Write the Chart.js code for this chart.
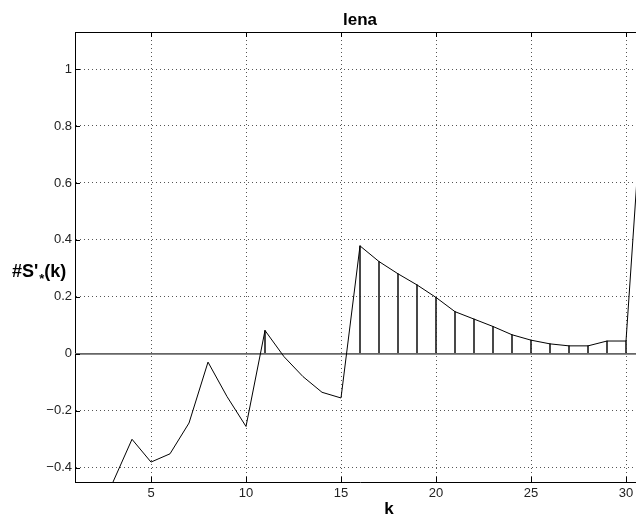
<!DOCTYPE html>
<html>
<head>
<meta charset="utf-8">
<script src="https://cdn.jsdelivr.net/npm/chart.js@4/dist/chart.umd.min.js"></script>
<style>
  html, body { margin: 0; padding: 0; background: #fff; overflow: hidden; }
  canvas { display: block; }
</style>
</head>
<body>
<canvas id="lena-chart" width="646" height="515"></canvas>
<script>
// k 取值与对应的 #S'*(k)
const kValues = [3, 4, 5, 6, 7, 8, 9, 10, 11, 12, 13, 14, 15, 16, 17, 18, 19, 20, 21, 22, 23, 24, 25, 26, 27, 28, 29, 30, 31];
const sValues = [-0.45, -0.30, -0.38, -0.351, -0.243, -0.029, -0.15, -0.255, 0.082, -0.01, -0.08, -0.135, -0.155,
    0.379, 0.324, 0.281, 0.242, 0.198, 0.148, 0.122, 0.096, 0.067, 0.048, 0.035, 0.028, 0.028, 0.045, 0.045, 1.03];

const xTicks = [5, 10, 15, 20, 25, 30];
const yTicks = [-0.4, -0.2, 0, 0.2, 0.4, 0.6, 0.8, 1];
const xRange = [1, 31];
const yRange = [-0.45, 1.13];

const chartTitle = 'lena';
const xLabel = 'k';

const linePoints = kValues.map((k, i) => ({ x: k, y: sValues[i] }));
const stemPoints = linePoints.filter((p) => p.y > 0);

function formatTick(v) {
    return String(v).replace('-', '\u2212');
}

// 标题、坐标轴标签和向内的刻度线
const decorPlugin = {
    id: 'decor',
    afterDraw(chart) {
        const { ctx, chartArea: a, scales } = chart;
        ctx.save();
        ctx.strokeStyle = '#000';
        ctx.lineWidth = 1;
        ctx.beginPath();
        ctx.moveTo(a.left, a.top + 0.5);
        ctx.lineTo(a.right, a.top + 0.5);
        xTicks.forEach((v) => {
            const x = Math.round(scales.x.getPixelForValue(v)) + 0.5;
            ctx.moveTo(x, a.bottom); ctx.lineTo(x, a.bottom - 5);
            ctx.moveTo(x, a.top); ctx.lineTo(x, a.top + 5);
        });
        yTicks.forEach((v) => {
            const y = Math.round(scales.y.getPixelForValue(v)) + 0.5;
            ctx.moveTo(a.left, y); ctx.lineTo(a.left + 5, y);
        });
        ctx.stroke();

        ctx.fillStyle = '#000';
        ctx.textBaseline = 'alphabetic';
        ctx.font = 'bold 17px "Liberation Sans", Arial, sans-serif';
        ctx.textAlign = 'center';
        ctx.fillText(chartTitle, (a.left + a.right) / 2, 25);
        ctx.fillText(xLabel, 389, 514);

        // y 轴标签：#S'*(k)，* 为下标
        ctx.textAlign = 'left';
        let x = 12;
        const base = 277;
        ctx.font = 'bold 18px "Liberation Sans", Arial, sans-serif';
        ctx.fillText("#S'", x, base);
        x += ctx.measureText("#S'").width + 1;
        ctx.font = 'bold 13px "Liberation Sans", Arial, sans-serif';
        ctx.fillText('*', x, base + 6);
        x += ctx.measureText('*').width;
        ctx.font = 'bold 18px "Liberation Sans", Arial, sans-serif';
        ctx.fillText('(k)', x, base);
        ctx.restore();
    }
};

new Chart(document.getElementById('lena-chart'), {
    type: 'line',
    data: {
        datasets: [
            {
                type: 'line',
                data: linePoints,
                borderColor: '#000',
                borderWidth: 1,
                pointRadius: 0,
                tension: 0,
                order: 0
            },
            {
                type: 'line',
                data: [{ x: xRange[0], y: 0 }, { x: xRange[1], y: 0 }],
                borderColor: '#666',
                borderWidth: 1.6,
                pointRadius: 0,
                order: 1
            },
            {
                type: 'bar',
                data: stemPoints,
                backgroundColor: '#222',
                barThickness: 1,
                order: 2
            }
        ]
    },
    options: {
        responsive: false,
        animation: false,
        layout: { padding: { left: 0, top: 32, right: 1, bottom: 0 } },
        plugins: { legend: { display: false }, tooltip: { enabled: false }, title: { display: false } },
        scales: {
            x: {
                type: 'linear',
                offset: false,
                min: xRange[0],
                max: xRange[1],
                afterBuildTicks: (s) => { s.ticks = xTicks.map((v) => ({ value: v })); },
                afterFit: (s) => { s.height = 33; },
                grid: { color: '#555', lineWidth: 1, drawTicks: false, offset: false },
                border: { color: '#000', width: 1, dash: [1, 3] },
                ticks: {
                    padding: 4,
                    color: '#222',
                    font: { family: '"Liberation Sans", Arial, sans-serif', size: 13 },
                    maxRotation: 0,
                    callback: (v) => formatTick(v)
                }
            },
            y: {
                min: yRange[0],
                max: yRange[1],
                afterBuildTicks: (s) => { s.ticks = yTicks.map((v) => ({ value: v })); },
                afterFit: (s) => { s.width = 75; },
                grid: { color: '#555', lineWidth: 1, drawTicks: false },
                border: { color: '#000', width: 1, dash: [1, 3] },
                ticks: {
                    padding: 3,
                    color: '#222',
                    font: { family: '"Liberation Sans", Arial, sans-serif', size: 13 },
                    callback: (v) => formatTick(v)
                }
            }
        }
    },
    plugins: [decorPlugin]
});
</script>
</body>
</html>
